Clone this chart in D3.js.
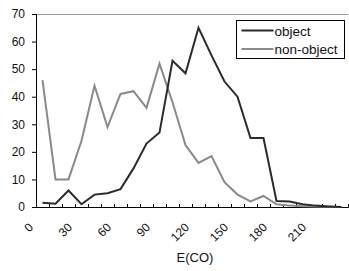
<!DOCTYPE html>
<html>
<head>
<meta charset="utf-8">
<script src="https://cdn.jsdelivr.net/npm/d3@7"></script>
<style>
  body { margin: 0; background: #fff; }
  text { font-family: Arial, "Liberation Sans", sans-serif; }
</style>
</head>
<body>
<div id="chart"></div>
<script>
// bin centres of E(CO)
var bins = d3.range(5, 240, 10);
var objectVals = [1.5, 1.2, 6, 1, 4.5, 5, 6.5, 14, 23, 27, 53, 48.5, 65, 55, 45.5, 40, 25, 25, 2.2, 2, 1, 0.5, 0.2, 0];
var nonObjectVals = [46, 10, 10, 24, 44, 29, 41, 42, 36, 52, 38, 22.5, 16, 18.5, 9, 4.5, 2, 4, 1, 0.5, 0.3, 0.2, 0.1, 0];
var xTicks = d3.range(0, 250, 10);
var xLabels = [0, 30, 60, 90, 120, 150, 180, 210];
var yTicks = [0, 10, 20, 30, 40, 50, 60, 70];

var svgWidth = 349, svgHeight = 271;
var margin = { top: 14, right: 1, bottom: 64, left: 36 };
var width = svgWidth - margin.left - margin.right;
var height = svgHeight - margin.top - margin.bottom;

var svg = d3.select("#chart").append("svg")
  .attr("width", svgWidth)
  .attr("height", svgHeight);

var g = svg.append("g")
  .attr("transform", `translate(${margin.left}, ${margin.top})`);

var x = d3.scaleLinear().domain([0, 240]).range([0, width]);
var y = d3.scaleLinear().domain([0, 70]).range([height, 0]);

// top border
g.append("line")
  .attr("x1", 0).attr("x2", width)
  .attr("y1", 0.5).attr("y2", 0.5)
  .attr("stroke", "#999").attr("stroke-width", 1);

// y axis
var yAxis = g.append("g")
  .call(d3.axisLeft(y).tickValues(yTicks).tickSize(4).tickPadding(7));
yAxis.select(".domain").attr("stroke", "#000");
yAxis.selectAll("text").attr("font-size", 12).attr("fill", "#111");

// x axis
var xAxis = g.append("g")
  .attr("transform", `translate(0, ${height})`)
  .call(d3.axisBottom(x).tickValues(xTicks).tickSize(-3).tickFormat(""));
xAxis.select(".domain").attr("stroke", "#000");

g.selectAll(".xlab")
  .data(xLabels)
  .enter().append("text")
  .attr("class", "xlab")
  .attr("transform", d => `translate(${x(d) - 5}, ${height + 18}) rotate(-45)`)
  .attr("text-anchor", "end")
  .attr("dy", "0.35em")
  .attr("font-size", 12)
  .attr("fill", "#111")
  .text(d => d);

g.append("text")
  .attr("x", width / 2 + 3)
  .attr("y", height + 55)
  .attr("text-anchor", "middle")
  .attr("font-size", 13)
  .attr("fill", "#111")
  .text("E(CO)");

var line = d3.line()
  .x((d, i) => x(bins[i]))
  .y(d => y(d));

g.append("path")
  .datum(nonObjectVals)
  .attr("d", line)
  .attr("fill", "none")
  .attr("stroke", "#8a8a8a")
  .attr("stroke-width", 2);

g.append("path")
  .datum(objectVals)
  .attr("d", line)
  .attr("fill", "none")
  .attr("stroke", "#2b2b2b")
  .attr("stroke-width", 2);

// legend
var legend = svg.append("g").attr("transform", "translate(236.5, 20.5)");
legend.append("rect")
  .attr("width", 108).attr("height", 38)
  .attr("fill", "#fff").attr("stroke", "#000");
var legendItems = [{ name: "object", color: "#2b2b2b" }, { name: "non-object", color: "#8a8a8a" }];
legendItems.forEach(function (d, i) {
  legend.append("line")
    .attr("x1", 5).attr("x2", 37)
    .attr("y1", 10 + i * 18.5).attr("y2", 10 + i * 18.5)
    .attr("stroke", d.color).attr("stroke-width", 2);
  legend.append("text")
    .attr("x", 38).attr("y", 15 + i * 18.5)
    .attr("font-size", 13.5)
    .attr("fill", "#111")
    .text(d.name);
});
</script>
</body>
</html>
